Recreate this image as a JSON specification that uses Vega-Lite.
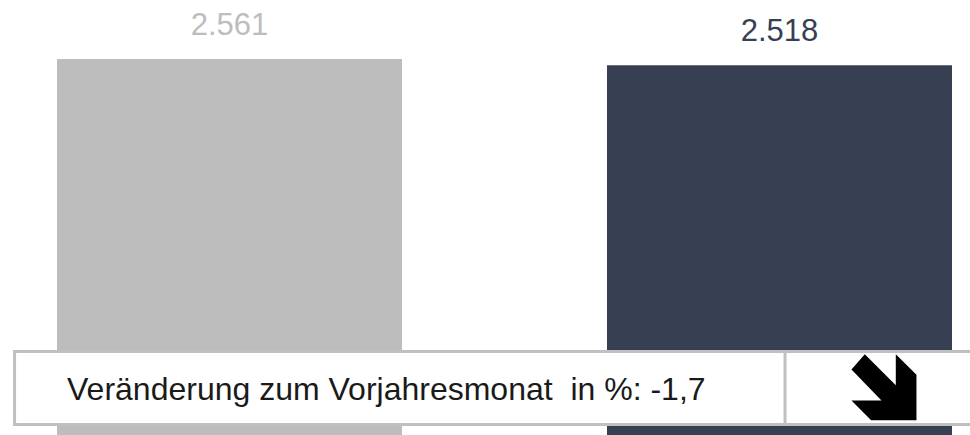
{
  "$schema": "https://vega.github.io/schema/vega-lite/v6.json",
  "width": 970,
  "height": 435,
  "padding": 0,
  "autosize": {"type": "fit", "contains": "padding"},
  "background": "white",
  "config": {
    "view": {"stroke": null},
    "font": "Liberation Sans",
    "locale": {"number": {"decimal": ",", "thousands": ".", "grouping": [3], "currency": ["", " €"]}}
  },
  "layer": [
    {
      "data": {"values": [
        {"monat": "Vorjahresmonat", "wert": 2561},
        {"monat": "Berichtsmonat", "wert": 2518}
      ]},
      "encoding": {
        "x": {"field": "monat", "type": "nominal", "sort": null, "axis": null,
              "scale": {"paddingInner": 0.3727, "paddingOuter": 0.0682, "align": 0.76}},
        "y": {"field": "wert", "type": "quantitative", "axis": null,
              "scale": {"domain": [0, 2963], "nice": false, "zero": true}},
        "color": {"field": "monat", "type": "nominal", "legend": null,
                  "scale": {"domain": ["Vorjahresmonat", "Berichtsmonat"], "range": ["#BDBDBD", "#373F53"]}}
      },
      "layer": [
        {"mark": {"type": "bar"}},
        {"mark": {"type": "text", "baseline": "alphabetic", "dy": -24, "fontSize": 31, "font": "Liberation Sans"},
         "encoding": {"text": {"field": "wert", "type": "quantitative", "format": ",.0f"}}}
      ]
    },
    {
      "data": {"values": [{"text": "Veränderung zum Vorjahresmonat\u00a0 in %: -1,7", "veraenderung": -1.7}]},
      "layer": [
        {
          "mark": {"type": "rect", "fill": "white", "stroke": "#C0C0C0", "strokeWidth": 3, "clip": true},
          "encoding": {
            "x": {"datum": 0.015, "type": "quantitative", "axis": null, "scale": {"domain": [0, 1], "nice": false, "zero": false}},
            "x2": {"datum": 1.05},
            "y": {"datum": 0.192, "type": "quantitative", "axis": null, "scale": {"domain": [0, 1], "nice": false, "zero": false}},
            "y2": {"datum": 0.0241}
          }
        },
        {
          "mark": {"type": "rule", "stroke": "#C0C0C0", "strokeWidth": 3},
          "encoding": {
            "x": {"datum": 0.8093, "type": "quantitative", "axis": null, "scale": {"domain": [0, 1], "nice": false, "zero": false}},
            "y": {"datum": 0.192, "type": "quantitative", "axis": null, "scale": {"domain": [0, 1], "nice": false, "zero": false}},
            "y2": {"datum": 0.0241}
          }
        },
        {
          "mark": {"type": "text", "align": "left", "baseline": "middle", "fontSize": 32, "font": "Liberation Sans", "color": "#1A1A1A"},
          "encoding": {
            "x": {"datum": 0.0691, "type": "quantitative", "axis": null, "scale": {"domain": [0, 1], "nice": false, "zero": false}},
            "y": {"datum": 0.1034, "type": "quantitative", "axis": null, "scale": {"domain": [0, 1], "nice": false, "zero": false}},
            "text": {"field": "text"}
          }
        },
        {
          "mark": {"type": "point", "filled": true, "color": "black", "opacity": 1, "strokeWidth": 0, "size": 4444,
                   "shape": "M -0.575 -0.99 L 0.355 -0.06 L 0.355 -0.99 L 0.975 -0.37 L 0.975 0.99 L -0.385 0.99 L -0.975 0.4 L -0.075 0.4 L -0.975 -0.53 Z"},
          "encoding": {
            "x": {"datum": 0.9113, "type": "quantitative", "axis": null, "scale": {"domain": [0, 1], "nice": false, "zero": false}},
            "y": {"datum": 0.11, "type": "quantitative", "axis": null, "scale": {"domain": [0, 1], "nice": false, "zero": false}}
          }
        }
      ]
    }
  ],
  "resolve": {"scale": {"x": "independent", "y": "independent", "color": "independent"}}
}
